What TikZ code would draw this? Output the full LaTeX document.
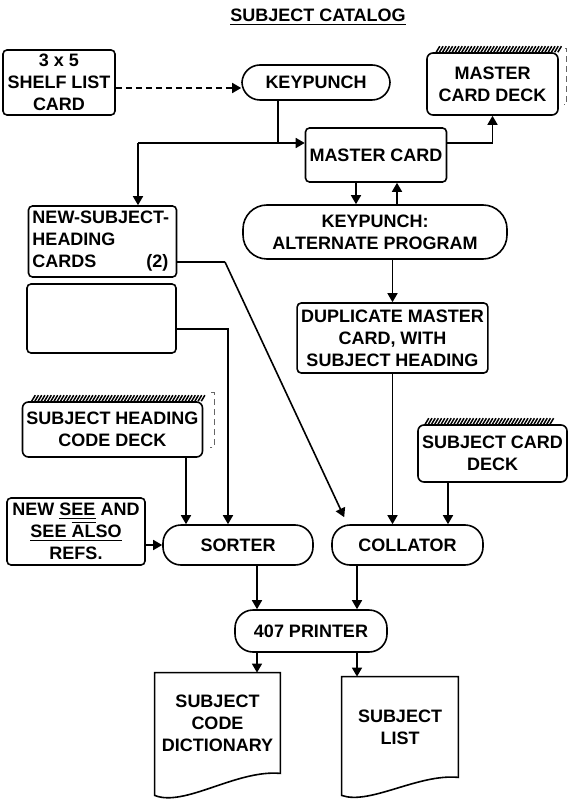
\documentclass[tikz,border=0pt]{standalone}
\usepackage{fontspec}
\setmainfont{Liberation Sans}
\usepackage{tikz}
\usetikzlibrary{arrows.meta,positioning}

\begin{document}
\begin{tikzpicture}[
  x=0.5pt, y=-0.5pt,
  font=\fontsize{9}{11}\selectfont\bfseries, >={Triangle[length=4.5pt,width=5pt]},
  b/.style={draw, line width=0.8pt, rounded corners=2pt, align=center, inner sep=2pt},
  term/.style={b, rounded corners=9pt},
  deck/.style={b, rounded corners=3pt},
  a/.style={->, line width=0.8pt},
  ln/.style={line width=0.8pt},
  edge/.style={line width=0.75pt},
  shade/.style={line width=0.5pt, densely dashed, draw=black!60},
]
\useasboundingbox (0,0) rectangle (567,801);

% title
\node (title) at (318,17) {\underline{SUBJECT CATALOG}};

% top row: shelf list card -> keypunch -> master card
\node[b, minimum width=56pt, minimum height=32.5pt] (shelf) at (59,82.5) {3 x 5\\SHELF LIST\\CARD};
\node[term, minimum width=74pt, minimum height=17.5pt] (keypunch) at (316,82.5) {KEYPUNCH};
\node[deck, minimum width=65.5pt, minimum height=31pt] (mdeck) at (492.5,84) {MASTER\\CARD DECK};
\node[b, minimum width=67pt, minimum height=27pt] (mcard) at (376,155) {MASTER CARD};
\node[term, rounded corners=12pt, minimum width=132pt, minimum height=27pt] (alt) at (375,232)
  {KEYPUNCH:\\ALTERNATE PROGRAM};
\node[b, minimum width=94.5pt, minimum height=35pt] (dup) at (392.5,338)
  {DUPLICATE MASTER\\CARD, WITH\\SUBJECT HEADING};

% left column
\node[b, align=left, text width=70pt, minimum height=35.5pt] (nshc) at (102.5,241.5)
  {NEW-SUBJECT-\\HEADING\\CARDS\hspace{25pt}(2)};
\node[b, minimum width=74.5pt, minimum height=34.5pt] (blank) at (101.5,318.5) {};
\node[deck, minimum width=89.5pt, minimum height=27.5pt] (shdeck) at (112.5,429.5)
  {SUBJECT HEADING\\CODE DECK};
\node[deck, minimum width=67.5pt, minimum height=28.5pt] (scdeck) at (492.5,453.5)
  {SUBJECT CARD\\DECK};
\node[b, minimum width=69pt, minimum height=33.5pt] (nsee) at (76,531.5)
  {NEW \underline{SEE} AND\\\underline{SEE \smash{$\overline{\mbox{AL}}$}SO}\\REFS.};

% machines
\node[term, minimum width=75pt, minimum height=20pt] (sorter) at (238,545) {SORTER};
\node[term, minimum width=75.5pt, minimum height=20pt] (collator) at (407.5,545) {COLLATOR};
\node[term, minimum width=76pt, minimum height=21pt] (printer) at (311,631) {407 PRINTER};

% reports
\node[minimum width=62.5pt, minimum height=50pt, align=center] (dict) at (217.5,723)
  {SUBJECT\\CODE\\DICTIONARY};
\node[minimum width=58pt, minimum height=50pt, align=center] (slist) at (400,727)
  {SUBJECT\\LIST};
\draw[ln] (dict.north west) -- ([yshift=-11pt]dict.south west)
  .. controls +(15pt,-6pt) and +(-22pt,2pt) .. (dict.south east) -- (dict.north east) -- cycle;
\draw[ln] (slist.north west) -- ([yshift=-9pt]slist.south west)
  .. controls +(14pt,-5pt) and +(-20pt,2pt) .. (slist.south east) -- (slist.north east) -- cycle;

% card deck edges
\foreach \k in {0,1.6,...,62} \draw[edge] ([xshift=\k pt+5pt]mdeck.north west) -- ++(1.8pt,3pt);
\foreach \k in {0,1.6,...,86} \draw[edge] ([xshift=\k pt+5pt]shdeck.north west) -- ++(1.8pt,3pt);
\foreach \k in {0,1.6,...,64} \draw[edge] ([xshift=\k pt+4pt]scdeck.north west) -- ++(1.8pt,3pt);
\draw[shade] ([xshift=3pt,yshift=2pt]mdeck.north east) -- ++(1pt,0) -- ++(0,-28pt) -- ++(-1.5pt,0);
\draw[shade] ([xshift=4pt,yshift=4.5pt]shdeck.north east) -- ++(1.5pt,0) -- ++(0,-27.5pt) -- ++(-2pt,0);
\draw[shade] ([xshift=2pt,yshift=2pt]scdeck.north east) -- ++(1pt,0) -- ++(0,-25pt) -- ++(-1.5pt,0);

% connectors
\coordinate (j1) at (278,143);
\coordinate (j2) at (138,143);
\coordinate (d1) at (225,262);
\coordinate (d2) at (228,329);

\draw[a, densely dashed] (shelf.east |- 0,88) -- (keypunch.west |- 0,88);
\draw[ln] (keypunch.south -| j1) -- (j1) -- (j2);
\draw[a] (j2) -- (j2 |- nshc.north);
\draw[a] (j1) -- (j1 -| mcard.west);
\draw[a] (mcard.east |- j1) -| (mdeck.south);
\draw[a] ([xshift=-10pt]mcard.south) -- ([xshift=-10pt]mcard.south |- alt.north);
\draw[a] ([xshift=11pt]alt.north) -- ([xshift=11pt]alt.north |- mcard.south);
\draw[a] (dup.north |- alt.south) -- (dup.north);

\draw[ln] (nshc.east |- d1) -- (d1);
\draw[a] (d1) -- ([xshift=6.5pt,yshift=3.5pt]collator.north west);
\draw[a] (blank.east |- d2) -- (d2) -- (d2 |- sorter.north);
\draw[a] ([xshift=36.75pt]shdeck.south) -- ([xshift=36.75pt]shdeck.south |- sorter.north);
\draw[a] (nsee.east |- sorter.west) -- (sorter.west);

\draw[a] (dup.south) -- (dup.south |- collator.north);
\draw[a] ([xshift=-22.25pt]scdeck.south) -- ([xshift=-22.25pt]scdeck.south |- collator.north);

\draw[a] ([xshift=9.5pt]sorter.south) -- ([xshift=9.5pt]sorter.south |- printer.north);
\draw[a] ([xshift=-25.25pt]collator.south) -- ([xshift=-25.25pt]collator.south |- printer.north);
\draw[a] ([xshift=-27pt]printer.south) -- ([xshift=-27pt]printer.south |- dict.north);
\draw[a] ([xshift=23pt]printer.south) -- ([xshift=23pt]printer.south |- slist.north);
\end{tikzpicture}
\end{document}
